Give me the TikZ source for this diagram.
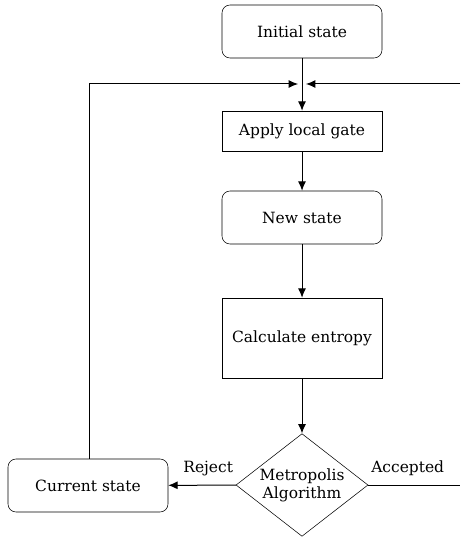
\documentclass[tikz,border=0pt]{standalone}
\usepackage{fontspec}
\setmainfont{DejaVu Serif}
\usetikzlibrary{shapes.geometric,arrows.meta}
\begin{document}
\begin{tikzpicture}[x=0.75pt,y=-0.75pt,
  roundbox/.style={draw, rounded corners=6pt, minimum width=120pt, minimum height=39.75pt, font=\fontsize{11.6}{14}\selectfont},
  sqbox/.style={draw, minimum width=120pt, font=\fontsize{11.6}{14}\selectfont},
  lbl/.style={font=\fontsize{11.6}{14}\selectfont},
  arr/.style={draw,line width=0.75pt,->,>={Latex[length=7pt,width=6pt]}},
  ln/.style={draw,line width=0.75pt}]
\useasboundingbox (0,0) rectangle (460,538);
\node[roundbox] (init) at (302,31.5) {Initial state};
\coordinate (join) at (302,84);
\node[sqbox, minimum height=30pt] (gate) at (302,131) {Apply local gate};
\node[roundbox] (new) at (302,217.5) {New state};
\node[sqbox, minimum height=60pt] (entropy) at (302,338) {Calculate entropy};
\node[draw, diamond, aspect=1.28, minimum width=99pt, minimum height=77pt, inner sep=0pt, font=\fontsize{11.6}{13.5}\selectfont, align=center] (metro) at (302,485) {Metropolis\\Algorithm};
\node[roundbox] (current) at (88,485.5) {Current state};
\coordinate (up) at (89,84);
\coordinate (accR) at (460,485);
\coordinate (backR) at (460,84);

\path[ln] (init) -- (join);
\path[arr] (join) -- (gate);
\path[arr] (gate) -- (new);
\path[arr] (new) -- (entropy);
\path[arr] (entropy) -- (metro);
\path[arr] (metro) -- node[lbl, above, pos=0.41, yshift=3pt] {Reject} (current);
\path[ln] (metro) -- node[lbl, above, pos=0.43, yshift=3pt] {Accepted} (accR);
\path[arr] (current.north -| up) -- (up) -- ([xshift=-3pt]join);
\path[arr] (backR) -- ([xshift=3pt]join);
\end{tikzpicture}
\end{document}
